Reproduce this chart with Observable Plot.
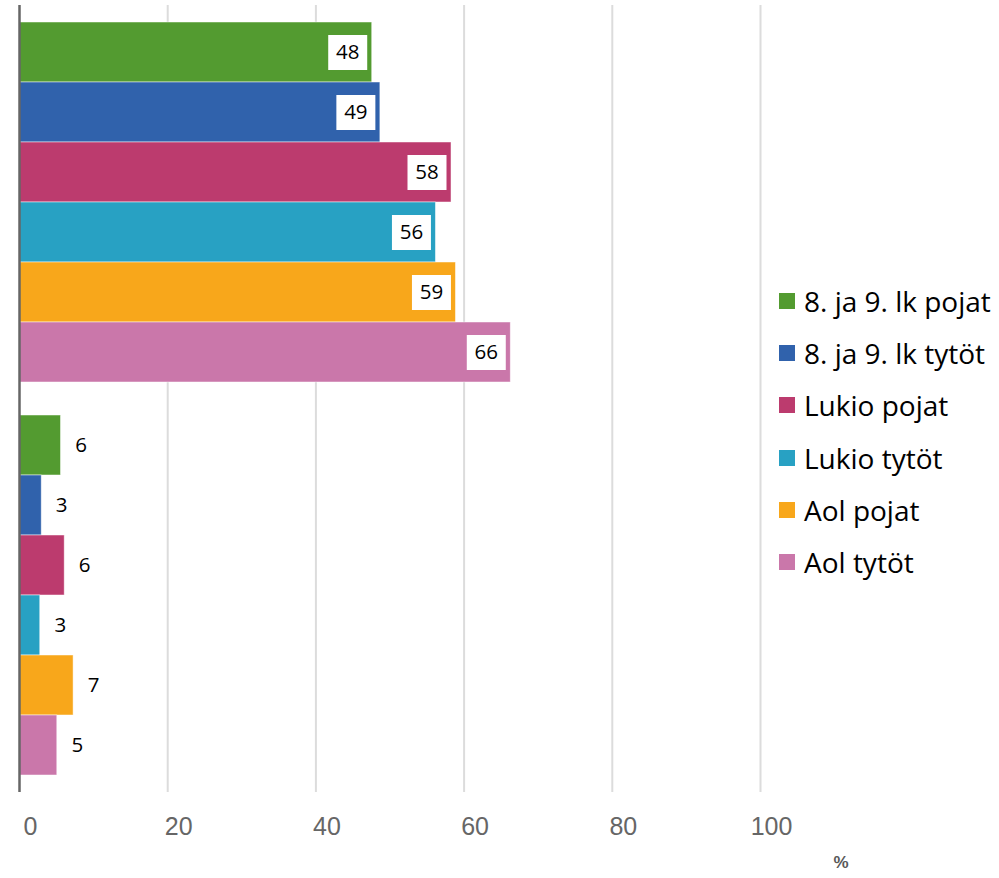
<!DOCTYPE html>
<html>
<head>
<meta charset="utf-8">
<script src="https://cdn.jsdelivr.net/npm/d3@7"></script>
<script src="https://cdn.jsdelivr.net/npm/@observablehq/plot@0.6"></script>
<style>
  html, body { margin: 0; padding: 0; background: #fff; }
  #wrap { position: relative; width: 999px; height: 878px; }
  #wrap svg { position: absolute; left: 0; top: 0; }
  #legend { position: absolute; left: 779px; top: 275px; font-family: "Open Sans", sans-serif; font-size: 28px; color: #000; }
  .row { display: flex; align-items: center; height: 52.2px; white-space: nowrap; }
  .sw { width: 16px; height: 16px; margin-right: 9px; flex: none; }
</style>
</head>
<body>
<div id="wrap"><div id="legend"></div></div>
<script>
const groups = ["Ryhmä 1", "Ryhmä 2"];
const series = ["8. ja 9. lk pojat", "8. ja 9. lk tytöt", "Lukio pojat", "Lukio tytöt", "Aol pojat", "Aol tytöt"];
const colors = ["#539B30", "#3062AC", "#BC3B6E", "#28A1C3", "#F8A71B", "#CA77AA"];
const group1Values = [47.6, 48.7, 58.3, 56.2, 58.9, 66.3];
const group2Values = [5.6, 3.0, 6.1, 2.8, 7.3, 5.1];
const xTicks = [0, 20, 40, 60, 80, 100];
const unitLabel = "%";

const valuesByGroup = [group1Values, group2Values];
const data = groups.flatMap((g, gi) => series.map((s, i) => ({
  group: g, series: s, value: valuesByGroup[gi][i], label: String(Math.round(valuesByGroup[gi][i]))
})));
const inside = data.filter(d => d.group === groups[0]);
const outside = data.filter(d => d.group === groups[1]);

const boxSymbol = { draw(ctx) { ctx.rect(-19.5, -17.5, 39, 35); } };

const frame = { width: 999, height: 878, marginTop: 5, marginBottom: 86, marginLeft: 19, marginRight: 239 };
const xScale = { domain: [0, 100], axis: null };

// Background layer: grid, tick labels, unit
const back = Plot.plot({
  ...frame,
  style: { background: "white" },
  x: xScale,
  marks: [
    Plot.ruleX(xTicks.filter(t => t > 0), { x: d => d, stroke: "#dcdcdc", strokeWidth: 2 }),
    Plot.text(xTicks, { x: d => d, text: d => String(d), frameAnchor: "bottom", dy: 42, dx: 11, fontSize: 25, fill: "#666", fontFamily: "Liberation Sans, Arial, sans-serif" }),
    Plot.text([unitLabel], { text: d => d, frameAnchor: "bottom-right", dx: 88, dy: 75, fontSize: 17, fontWeight: "bold", fill: "#595959", fontFamily: "Liberation Sans, Arial, sans-serif" })
  ]
});

// Bars layer (faceted by group)
const bars = Plot.plot({
  ...frame,
  style: { background: "transparent" },
  x: xScale,
  y: { domain: series, padding: 0, axis: null },
  fy: { domain: groups, axis: null, paddingInner: 0.0805, paddingOuter: 0.0406 },
  color: { domain: series, range: colors },
  facet: { marginTop: 0, marginRight: 0, marginBottom: 0, marginLeft: 0 },
  marks: [
    Plot.barX(data, { x: "value", y: "series", fy: "group", fill: "series", stroke: "white", strokeWidth: 0.8, strokeOpacity: 0.6 }),
    Plot.dot(inside, { x: "value", y: "series", fy: "group", symbol: boxSymbol, r: 1, fill: "white", stroke: "none", dx: -24.5 }),
    Plot.text(inside, { x: "value", y: "series", fy: "group", text: "label", dx: -24.5, fontSize: 20.5, fill: "black", fontFamily: "Open Sans" }),
    Plot.text(outside, { x: "value", y: "series", fy: "group", text: "label", dx: 20, fontSize: 20.5, fill: "black", fontFamily: "Open Sans" })
  ]
});

// Top layer: vertical axis line at 0
const axisLine = Plot.plot({
  ...frame,
  style: { background: "transparent" },
  x: xScale,
  marks: [Plot.ruleX([0], { x: d => d, stroke: "#666", strokeWidth: 2.5 })]
});

const wrap = document.getElementById("wrap");
wrap.prepend(back, bars, axisLine);

const legend = document.getElementById("legend");
series.forEach((s, i) => {
  const row = document.createElement("div");
  row.className = "row";
  const sw = document.createElement("span");
  sw.className = "sw";
  sw.style.background = colors[i];
  const t = document.createElement("span");
  t.textContent = s;
  row.append(sw, t);
  legend.append(row);
});
</script>
</body>
</html>
